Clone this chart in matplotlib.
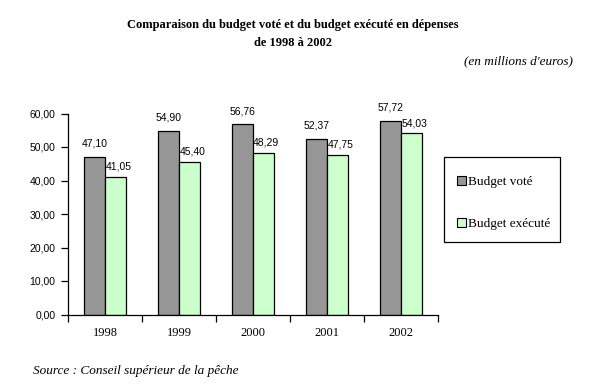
import matplotlib
matplotlib.use("Agg")
import matplotlib.pyplot as plt
import numpy as np
from matplotlib.patches import Patch, Rectangle
from matplotlib.ticker import FuncFormatter, FixedLocator

years = ["1998", "1999", "2000", "2001", "2002"]
budget_vote = [47.10, 54.90, 56.76, 52.37, 57.72]
budget_execute = [41.05, 45.40, 48.29, 47.75, 54.03]
series_names = ["Budget voté", "Budget exécuté"]

def fr(v):
    """Format a number the French way, with a comma."""
    return f"{v:.2f}".replace(".", ",")

fig = plt.figure(figsize=(6.04, 3.92), dpi=100)
ax = fig.add_axes([68 / 604, 1 - 314.5 / 392, 370 / 604, 201 / 392])

x = np.arange(len(years))
w = 0.285
gray = "#969696"
green = "#ccffcc"

bars1 = ax.bar(x - w / 2, budget_vote, w, color=gray, edgecolor="black", linewidth=0.9)
bars2 = ax.bar(x + w / 2, budget_execute, w, color=green, edgecolor="black", linewidth=0.9)

# value labels
for b, v in zip(bars1, budget_vote):
    ax.annotate(fr(v), (b.get_x() + b.get_width() / 2, v), xytext=(0, 9.5),
                textcoords="offset points", ha="center", va="center",
                fontsize=7.5, family="Liberation Sans")
for b, v in zip(bars2, budget_execute):
    ax.annotate(fr(v), (b.get_x() + b.get_width() / 2, v), xytext=(2, 7.5),
                textcoords="offset points", ha="center", va="center",
                fontsize=7.5, family="Liberation Sans")

ax.set_ylim(0, 60)
ax.set_xlim(-0.5, len(years) - 0.5)
ax.set_yticks(np.arange(0, 61, 10))
ax.yaxis.set_major_formatter(FuncFormatter(lambda v, p: fr(v)))
ax.set_xticks(x)
ax.set_xticklabels(years)
ax.xaxis.set_minor_locator(FixedLocator(np.arange(-0.5, len(years), 1)))
ax.tick_params(axis="x", which="major", length=0, pad=9)
ax.tick_params(axis="x", which="minor", length=5, width=0.9, direction="out")
ax.tick_params(axis="y", length=5, width=0.9, pad=4, labelsize=7.5)
for lab in ax.get_yticklabels():
    lab.set_family("Liberation Sans")
for lab in ax.get_xticklabels():
    lab.set_family("Liberation Serif")
    lab.set_fontsize(9)

for s in ["top", "right"]:
    ax.spines[s].set_visible(False)
for s in ["left", "bottom"]:
    ax.spines[s].set_linewidth(0.9)

# legend box drawn separately so its size matches the original
fig.patches.append(Rectangle((444 / 604, 1 - 242 / 392), 116 / 604, 85 / 392,
                             transform=fig.transFigure, facecolor="white",
                             edgecolor="black", linewidth=0.9, zorder=1))
handles = [Patch(facecolor=gray, edgecolor="black", linewidth=0.8),
           Patch(facecolor=green, edgecolor="black", linewidth=0.8)]
leg = fig.legend(handles, series_names, loc="upper left",
                 bbox_to_anchor=(457 / 604, 1 - 176 / 392),
                 frameon=False,
                 prop={"family": "Liberation Serif", "size": 9.5},
                 handlelength=0.65, handleheight=0.65, handletextpad=0.15,
                 labelspacing=2.3, borderpad=0, borderaxespad=0)
leg.set_zorder(3)

fig.text(0.485, 1 - 25 / 392, "Comparaison du budget voté et du budget exécuté en dépenses",
         ha="center", va="center", fontsize=9, fontweight="bold", family="Liberation Serif")
fig.text(0.485, 1 - 43 / 392, "de 1998 à 2002",
         ha="center", va="center", fontsize=9, fontweight="bold", family="Liberation Serif")
fig.text(573 / 604, 1 - 61 / 392, "(en millions d'euros)",
         ha="right", va="center", fontsize=9.5, style="italic", family="Liberation Serif")
fig.text(33 / 604, 1 - 371 / 392, "Source : Conseil supérieur de la pêche",
         ha="left", va="center", fontsize=9.5, style="italic", family="Liberation Serif")

fig.savefig("out.png", dpi=100)
